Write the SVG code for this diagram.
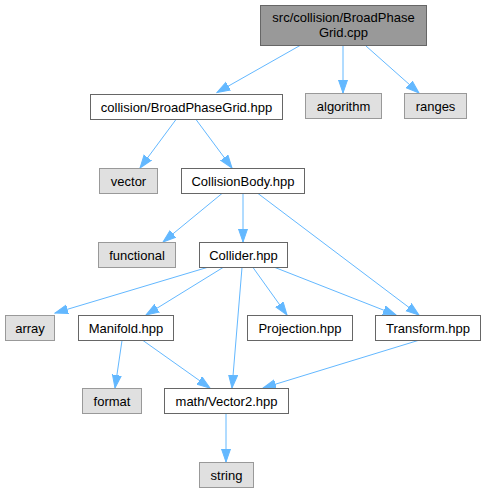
<svg xmlns="http://www.w3.org/2000/svg" width="485" height="493" viewBox="0 0 485 493">
<defs>
<marker id="ah" markerWidth="14" markerHeight="11" refX="13" refY="5" orient="auto" markerUnits="userSpaceOnUse">
<path d="M0,0.5 L13,5 L0,9.5 z" fill="#63b8ff" stroke="#63b8ff" stroke-width="1"/>
</marker>
</defs>
<style>
.n rect{fill:#fff;stroke:#666;stroke-width:1}
.g rect{fill:#e0e0e0;stroke:#999;stroke-width:1}
.r rect{fill:#999;stroke:#666;stroke-width:1}
text{font-family:"Liberation Sans",Arial,Helvetica,sans-serif;font-size:13px;fill:#000;text-anchor:middle}
#edges path{fill:none;stroke:#63b8ff;stroke-width:1;marker-end:url(#ah)}
</style>
<rect width="485" height="493" fill="#fff"/>
<g id="edges">
<path d="M300,45.5 L217,92.5"/>
<path d="M343,46 L343,93"/>
<path d="M366,46 L419,93"/>
<path d="M176,119.5 L140,168"/>
<path d="M196,119.5 L232,168"/>
<path d="M222,193.5 L163,242"/>
<path d="M243,193.5 L243,242"/>
<path d="M258,193.5 L419,315"/>
<path d="M207,267.5 L55,313"/>
<path d="M223,267.5 L146,315"/>
<path d="M242,267.5 L232,388"/>
<path d="M253,267.5 L287,315"/>
<path d="M275,267.5 L396,315"/>
<path d="M122,340.5 L115,388"/>
<path d="M143,340.5 L210,388"/>
<path d="M418,340.5 L263,388"/>
<path d="M226,413.5 L226,462"/>
</g>
<g id="root" class="r"><rect x="260.5" y="5.5" width="166" height="40"/><text x="343.5" y="22">src/collision/BroadPhase</text><text x="343.5" y="37">Grid.cpp</text></g>
<g id="algorithm" class="g"><rect x="305.5" y="93.5" width="76" height="25"/><text x="343.5" y="110.5">algorithm</text></g>
<g id="ranges" class="g"><rect x="404.5" y="93.5" width="62" height="25"/><text x="435.5" y="110.5">ranges</text></g>
<g id="bpg" class="n"><rect x="90.5" y="94.5" width="192" height="25"/><text x="186.5" y="111.5">collision/BroadPhaseGrid.hpp</text></g>
<g id="vector" class="g"><rect x="99.5" y="168.5" width="58" height="25"/><text x="128.5" y="185.5">vector</text></g>
<g id="collisionbody" class="n"><rect x="181.5" y="168.5" width="123" height="25"/><text x="243" y="185.5">CollisionBody.hpp</text></g>
<g id="functional" class="g"><rect x="98.5" y="242.5" width="77" height="25"/><text x="137" y="259.5">functional</text></g>
<g id="collider" class="n"><rect x="199.5" y="242.5" width="88" height="25"/><text x="243.5" y="259.5">Collider.hpp</text></g>
<g id="array" class="g"><rect x="5.5" y="315.5" width="49" height="25"/><text x="30" y="332.5">array</text></g>
<g id="manifold" class="n"><rect x="78.5" y="315.5" width="95" height="25"/><text x="126" y="332.5">Manifold.hpp</text></g>
<g id="projection" class="n"><rect x="247.5" y="315.5" width="105" height="25"/><text x="300" y="332.5">Projection.hpp</text></g>
<g id="transform" class="n"><rect x="375.5" y="315.5" width="105" height="25"/><text x="428" y="332.5">Transform.hpp</text></g>
<g id="format" class="g"><rect x="82.5" y="388.5" width="59" height="25"/><text x="112" y="405.5">format</text></g>
<g id="vector2" class="n"><rect x="164.5" y="388.5" width="124" height="25"/><text x="226.5" y="405.5">math/Vector2.hpp</text></g>
<g id="string" class="g"><rect x="199.5" y="462.5" width="54" height="25"/><text x="226.5" y="479.5">string</text></g>
</svg>
